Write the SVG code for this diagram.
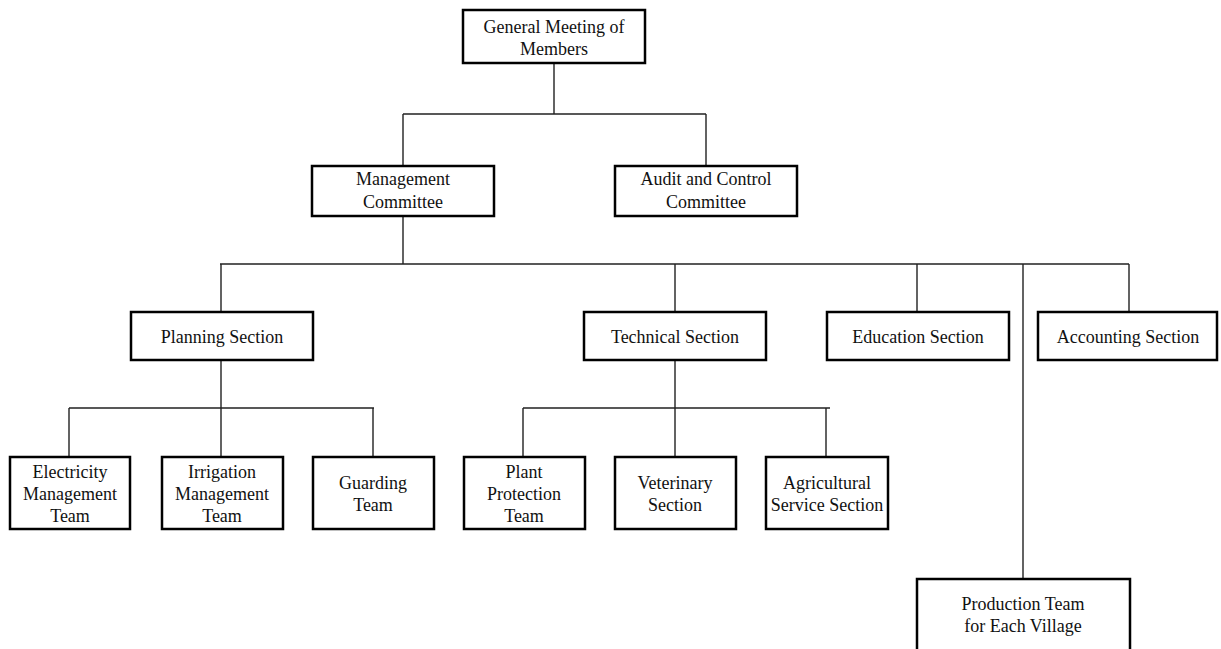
<svg xmlns="http://www.w3.org/2000/svg" width="1221" height="649" viewBox="0 0 1221 649">
<style>
.box{fill:#fff;stroke:#000;stroke-width:2.5}
.ln{stroke:#222;stroke-width:1.4;fill:none}
text{font-family:"Liberation Serif","Times New Roman",serif;font-size:18px;fill:#111;text-anchor:middle}
</style>
<rect width="1221" height="649" fill="#fff"/>
<g id="connectors">
<path class="ln" d="M554 63V114M403 114H706M403 114V166M706 114V166"/>
<path class="ln" d="M403 216V264M220 264H1129M221 264V312M675 264V312M917 264V312M1129 264V312M1023 264V579"/>
<path class="ln" d="M221 360V408M69 408H374M69 408V457M221 408V457M373 408V457"/>
<path class="ln" d="M675 360V408M523 408H830M523 408V457M675 408V457M826 408V457"/>
</g>
<g id="general"><rect class="box" x="463" y="10" width="182" height="53"/><text x="554" y="33">General Meeting of</text><text x="554" y="55">Members</text></g>
<g id="management"><rect class="box" x="312" y="166" width="182" height="50"/><text x="403" y="185">Management</text><text x="403" y="208">Committee</text></g>
<g id="audit"><rect class="box" x="615" y="166" width="182" height="50"/><text x="706" y="185">Audit and Control</text><text x="706" y="208">Committee</text></g>
<g id="planning"><rect class="box" x="131" y="312" width="182" height="48"/><text x="222" y="343">Planning Section</text></g>
<g id="technical"><rect class="box" x="584" y="312" width="182" height="48"/><text x="675" y="343">Technical Section</text></g>
<g id="education"><rect class="box" x="827" y="312" width="182" height="48"/><text x="918" y="343">Education Section</text></g>
<g id="accounting"><rect class="box" x="1038" y="312" width="179" height="48"/><text x="1128" y="343">Accounting Section</text></g>
<g id="electricity"><rect class="box" x="10" y="457" width="120" height="72"/><text x="70" y="478">Electricity</text><text x="70" y="500">Management</text><text x="70" y="522">Team</text></g>
<g id="irrigation"><rect class="box" x="162" y="457" width="121" height="72"/><text x="222" y="478">Irrigation</text><text x="222" y="500">Management</text><text x="222" y="522">Team</text></g>
<g id="guarding"><rect class="box" x="313" y="457" width="121" height="72"/><text x="373" y="489">Guarding</text><text x="373" y="511">Team</text></g>
<g id="plant"><rect class="box" x="464" y="457" width="121" height="72"/><text x="524" y="478">Plant</text><text x="524" y="500">Protection</text><text x="524" y="522">Team</text></g>
<g id="veterinary"><rect class="box" x="615" y="457" width="121" height="72"/><text x="675" y="489">Veterinary</text><text x="675" y="511">Section</text></g>
<g id="agricultural"><rect class="box" x="766" y="457" width="122" height="72"/><text x="827" y="489">Agricultural</text><text x="827" y="511">Service Section</text></g>
<g id="production"><rect class="box" x="917" y="579" width="213" height="90"/><text x="1023" y="610">Production Team</text><text x="1023" y="632">for Each Village</text></g>
</svg>
